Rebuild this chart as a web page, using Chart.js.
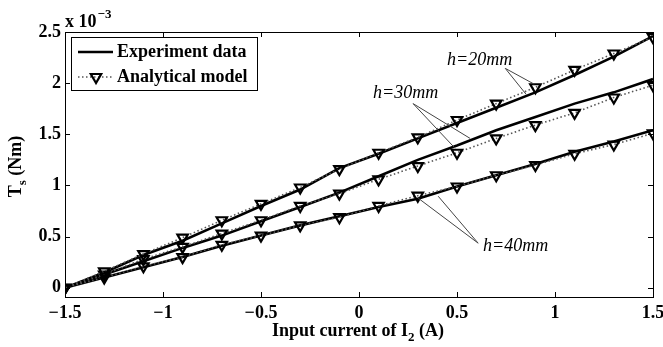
<!DOCTYPE html>
<html>
<head>
<meta charset="utf-8">
<script src="https://cdn.jsdelivr.net/npm/chart.js@4/dist/chart.umd.min.js"></script>
<style>
html,body{margin:0;padding:0;background:#fff;}
#wrap{width:663px;height:347px;position:relative;}
</style>
</head>
<body>
<div id="wrap"><canvas id="c" width="663" height="347"></canvas></div>
<script>
// ---- data (torque in units of 1e-3 Nm) ----
const currentI2 = [-1.5,-1.3,-1.1,-0.9,-0.7,-0.5,-0.3,-0.1,0.1,0.3,0.5,0.7,0.9,1.1,1.3,1.5];
const exp20 = [0,0.15,0.32,0.46,0.63,0.80,0.96,1.17,1.31,1.46,1.61,1.76,1.91,2.08,2.26,2.46];
const ana20 = [0,0.16,0.33,0.49,0.66,0.82,0.98,1.16,1.32,1.47,1.64,1.80,1.96,2.13,2.29,2.45];
const exp30 = [0,0.13,0.26,0.39,0.51,0.65,0.79,0.93,1.09,1.25,1.39,1.54,1.67,1.80,1.91,2.04];
const ana30 = [0,0.13,0.28,0.40,0.53,0.66,0.80,0.92,1.06,1.19,1.32,1.46,1.59,1.71,1.86,1.98];
const exp40 = [0,0.10,0.20,0.30,0.41,0.51,0.61,0.70,0.79,0.87,0.99,1.10,1.21,1.33,1.43,1.54];
const ana40 = [0,0.10,0.21,0.30,0.42,0.51,0.61,0.69,0.80,0.90,0.99,1.10,1.20,1.31,1.40,1.51];
const xTickVals = [-1.5,-1,-0.5,0,0.5,1,1.5];
const xTickLabels = ['\u22121.5','\u22121','\u22120.5','0','0.5','1','1.5'];
const yTickVals = [0,0.5,1,1.5,2,2.5];
const yTickLabels = ['0','0.5','1','1.5','2','2.5'];
const legendLabels = ['Experiment data','Analytical model'];
const curveLabels = ['h=20mm','h=30mm','h=40mm'];

const SERIF = '"Liberation Serif","Times New Roman",serif';
const pts = arr => currentI2.map((x,i)=>({x:x,y:arr[i]}));
function expSet(arr){return {data:pts(arr),borderColor:'#000',borderWidth:2.6,pointRadius:0,fill:false,tension:0};}
function anaSet(arr){return {data:pts(arr),borderColor:'#555',borderWidth:1.6,borderDash:[1.5,2.5],
  pointStyle:'triangle',rotation:180,pointRadius:6,pointBorderColor:'#000',pointBorderWidth:2.2,
  pointBackgroundColor:'rgba(255,255,255,0)',fill:false,tension:0};}

const deco = {
  id:'deco',
  afterDraw(chart){
    const ctx = chart.ctx, a = chart.chartArea, xs = chart.scales.x, ys = chart.scales.y;
    ctx.save();
    // box
    ctx.strokeStyle = '#000'; ctx.lineWidth = 1;
    ctx.strokeRect(a.left+0.5, a.top+0.5, a.right-a.left, a.bottom-a.top);
    // inward ticks
    const TL = 5;
    ctx.beginPath();
    xTickVals.forEach(v=>{const p=Math.round(xs.getPixelForValue(v))+0.5;
      ctx.moveTo(p,a.bottom); ctx.lineTo(p,a.bottom-TL); ctx.moveTo(p,a.top); ctx.lineTo(p,a.top+TL);});
    yTickVals.forEach(v=>{const p=Math.round(ys.getPixelForValue(v))+0.5;
      ctx.moveTo(a.left,p); ctx.lineTo(a.left+TL,p); ctx.moveTo(a.right,p); ctx.lineTo(a.right-TL,p);});
    ctx.stroke();
    // exponent label
    ctx.fillStyle = '#000';
    ctx.textBaseline = 'alphabetic'; ctx.textAlign = 'left';
    ctx.font = 'bold 18px ' + SERIF;
    ctx.fillText('x 10', a.left, a.top - 5);
    const w10 = ctx.measureText('x 10').width;
    ctx.font = 'bold 13px ' + SERIF;
    ctx.fillText('\u22123', a.left + w10 + 1, a.top - 14);
    // x title
    const t1 = 'Input current of I', t2 = '2', t3 = ' (A)';
    ctx.font = 'bold 18px ' + SERIF; const w1 = ctx.measureText(t1).width, w3 = ctx.measureText(t3).width;
    ctx.font = 'bold 13px ' + SERIF; const w2 = ctx.measureText(t2).width;
    let cx = (a.left + a.right)/2 - (w1+w2+w3)/2 - 1; const by = 336;
    ctx.font = 'bold 18px ' + SERIF; ctx.fillText(t1, cx, by); cx += w1;
    ctx.font = 'bold 13px ' + SERIF; ctx.fillText(t2, cx, by + 5); cx += w2;
    ctx.font = 'bold 18px ' + SERIF; ctx.fillText(t3, cx, by);
    // y title
    ctx.save();
    ctx.translate(21, (a.top + a.bottom)/2 + 2);
    ctx.rotate(-Math.PI/2);
    ctx.font = 'bold 18px ' + SERIF; const yw1 = ctx.measureText('T').width, yw3 = ctx.measureText(' (Nm)').width;
    ctx.font = 'bold 13px ' + SERIF; const yw2 = ctx.measureText('s').width;
    let yx = -(yw1+yw2+yw3)/2;
    ctx.font = 'bold 18px ' + SERIF; ctx.fillText('T', yx, 0); yx += yw1;
    ctx.font = 'bold 13px ' + SERIF; ctx.fillText('s', yx, 5); yx += yw2;
    ctx.font = 'bold 18px ' + SERIF; ctx.fillText(' (Nm)', yx, 0);
    ctx.restore();
    // legend
    const L = {x:71.5, y:37.5, w:186, h:53};
    ctx.fillStyle = '#fff'; ctx.fillRect(L.x, L.y, L.w, L.h);
    ctx.strokeStyle = '#000'; ctx.lineWidth = 1; ctx.strokeRect(L.x, L.y, L.w, L.h);
    ctx.beginPath(); ctx.lineWidth = 2.6; ctx.setLineDash([]);
    ctx.moveTo(78, 52); ctx.lineTo(113, 52); ctx.stroke();
    ctx.beginPath(); ctx.lineWidth = 1.6; ctx.strokeStyle = '#555'; ctx.setLineDash([1.5,2.5]);
    ctx.moveTo(78, 77); ctx.lineTo(113, 77); ctx.stroke(); ctx.setLineDash([]);
    // legend triangle
    const r = 6, tx = 96, ty = 77;
    ctx.beginPath(); ctx.strokeStyle = '#000'; ctx.lineWidth = 2.2;
    ctx.moveTo(tx, ty + r);
    ctx.lineTo(tx - r*Math.sin(Math.PI/3), ty - r/2);
    ctx.lineTo(tx + r*Math.sin(Math.PI/3), ty - r/2);
    ctx.closePath(); ctx.stroke();
    ctx.fillStyle = '#000'; ctx.font = 'bold 18px ' + SERIF; ctx.textBaseline = 'middle';
    ctx.fillText(legendLabels[0], 117, 52);
    ctx.fillText(legendLabels[1], 117, 77);
    // curve annotations
    ctx.font = 'italic 18px ' + SERIF; ctx.textBaseline = 'middle'; ctx.textAlign = 'left';
    ctx.fillText(curveLabels[0], 447, 60);
    ctx.fillText(curveLabels[1], 373, 93);
    ctx.fillText(curveLabels[2], 483, 246);
    ctx.strokeStyle = '#444'; ctx.lineWidth = 1;
    const P = (x,y)=>[xs.getPixelForValue(x), ys.getPixelForValue(y)];
    const seg = (p0,p1)=>{ctx.beginPath(); ctx.moveTo(p0[0],p0[1]); ctx.lineTo(p1[0],p1[1]); ctx.stroke();};
    seg(P(0.746,2.145), P(0.894,1.99));
    seg(P(0.746,2.145), P(0.853,1.89));
    seg(P(0.276,1.80), P(0.49,1.364));
    seg(P(0.276,1.80), P(0.567,1.46));
    seg(P(0.608,0.436), P(0.302,0.876));
    seg(P(0.608,0.436), P(0.404,0.895));
    ctx.restore();
  }
};

new Chart(document.getElementById('c'), {
  type:'line',
  data:{datasets:[anaSet(ana20),anaSet(ana30),anaSet(ana40),expSet(exp20),expSet(exp30),expSet(exp40)]},
  options:{
    responsive:false, animation:false,
    layout:{padding:{top:32,right:10,left:0,bottom:0}},
    plugins:{legend:{display:false},tooltip:{enabled:false}},
    scales:{
      x:{type:'linear',min:-1.5,max:1.5,
        afterBuildTicks:s=>{s.ticks = xTickVals.map(v=>({value:v}));},
        afterFit:s=>{s.height = 50; s.paddingLeft = 0; s.paddingRight = 0;},
        grid:{display:false,drawTicks:false},border:{display:false},
        ticks:{autoSkip:false,maxRotation:0,padding:6,color:'#000',
          font:{family:SERIF,size:18,weight:'bold'},
          callback:v=>xTickLabels[xTickVals.indexOf(v)]}},
      y:{type:'linear',min:-0.09,max:2.5,
        afterBuildTicks:s=>{s.ticks = yTickVals.map(v=>({value:v}));},
        afterFit:s=>{s.width = 65; s.paddingTop = 0; s.paddingBottom = 0;},
        grid:{display:false,drawTicks:false},border:{display:false},
        ticks:{autoSkip:false,padding:4,color:'#000',
          font:{family:SERIF,size:18,weight:'bold'},
          callback:v=>yTickLabels[yTickVals.indexOf(v)]}}
    }
  },
  plugins:[deco]
});
</script>
</body>
</html>
